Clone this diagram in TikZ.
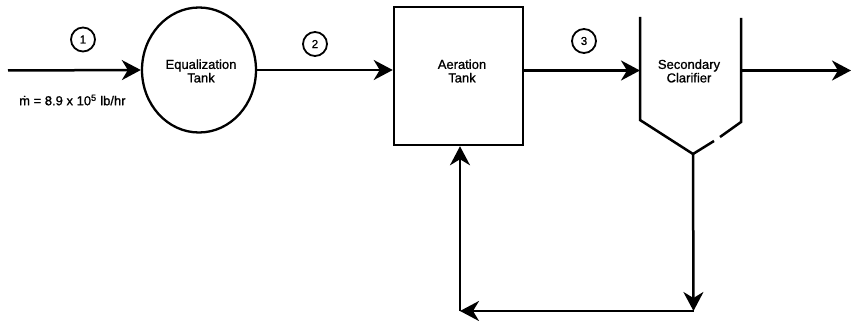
\documentclass[tikz,border=0pt]{standalone}
\usepackage{fontspec}
\setmainfont{Liberation Sans}
\newfontfamily\lblfont{Liberation Sans}[FakeBold=1]
\usetikzlibrary{arrows.meta,shapes.geometric}
\begin{document}
\begin{tikzpicture}[x=1pt,y=-1pt,
  flow/.style={line width=2.5pt,-{Stealth[length=19pt,width=20pt,inset=6pt]}},
  wall/.style={line width=2.5pt},
  lbl/.style={font=\lblfont\fontsize{13}{13.5}\selectfont,align=center,inner sep=0pt},
  num/.style={draw,circle,line width=1.8pt,minimum size=24pt,inner sep=0pt,font=\lblfont\fontsize{11.5}{11.5}\selectfont}]
\useasboundingbox (0,0) rectangle (852,321);
% nodes
\coordinate (in) at (8,70.5);
\node[draw,ellipse,line width=2.3pt,minimum width=114pt,minimum height=125pt,inner sep=0pt] (eq) at (199,70) {};
\node[lbl] (eqt) at (201,71) {Equalization\\Tank};
\node[draw,rectangle,line width=2.5pt,minimum width=129pt,minimum height=138pt,inner sep=0pt] (aer) at (458.5,76) {};
\node[lbl] (aert) at (462,71) {Aeration\\Tank};
% clarifier
\coordinate (cltl) at (640,17);
\coordinate (clbl) at (640,120);
\coordinate (cltr) at (741,18);
\coordinate (clbr) at (741,122);
\coordinate (apex) at (693,154);
\coordinate (gapa) at (720,137);
\coordinate (gapb) at (714,141);
\draw[wall] (cltl) -- (clbl) -- (apex) -- (gapb);
\draw[wall] (cltr) -- (clbr) -- (gapa);
\node[lbl] (clt) at (689,71) {Secondary\\Clarifier};
\coordinate (clin) at (640,70.5);
\coordinate (clout) at (741,70.5);
\coordinate (out) at (851,70.5);
\coordinate (down) at (693.5,311);
\coordinate (corner) at (460,311);
% numbers
\node[num] (n1) at (83,39.5) {1};
\node[num] (n2) at (315,44) {2};
\node[num] (n3) at (584,41) {3};
% mass flow label
\node[lbl,anchor=west] (mdot) at (19,100) {ṁ = 8.9 x 10\textsuperscript{5} lb/hr};
% flows
\draw[flow] (in) -- (eq.west);
\draw[flow] (eq.east) -- (eq.east -| aer.west);
\draw[flow] (aer.east |- clin) -- (clin);
\draw[flow] (clout) -- (out);
\draw[flow] (apex) -- (down);
\draw[flow] (down) -- (corner);
\draw[flow] (corner) -- (aer.south -| corner);
\end{tikzpicture}
\end{document}
